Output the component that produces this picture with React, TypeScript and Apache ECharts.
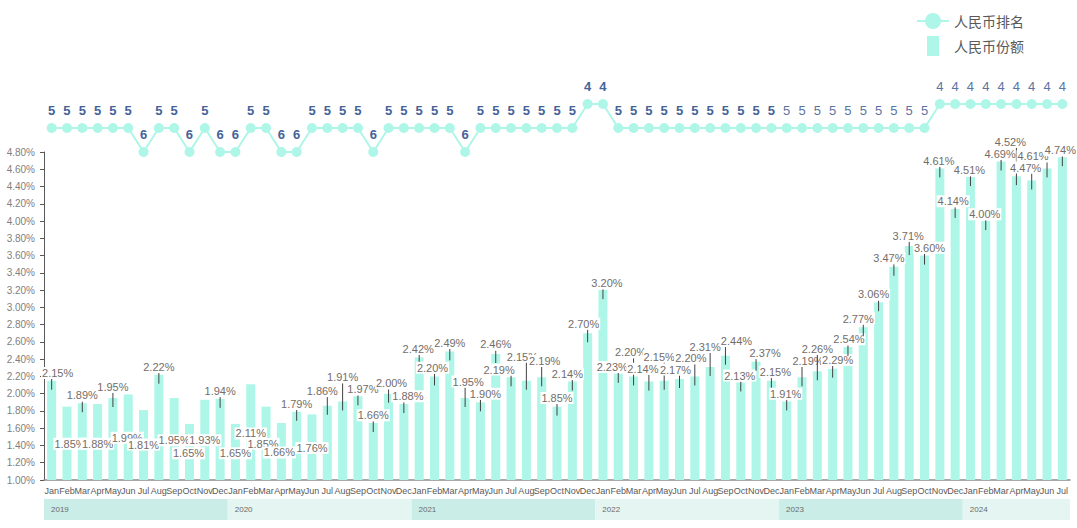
import React, { useEffect, useRef } from "react";
import * as echarts from "echarts";

const monthNames = ["Jan", "Feb", "Mar", "Apr", "May", "Jun", "Jul", "Aug", "Sep", "Oct", "Nov", "Dec"];
const categories: string[] = [];
for (let y = 0; y < 5; y++) for (const m of monthNames) categories.push(m);
for (let i = 0; i < 7; i++) categories.push(monthNames[i]);

// 人民币份额 (%)
const shareValues = [
  2.15, 1.85, 1.89, 1.88, 1.95, 1.99, 1.81, 2.22, 1.95, 1.65, 1.93, 1.94,
  1.65, 2.11, 1.85, 1.66, 1.79, 1.76, 1.86, 1.91, 1.97, 1.66, 2.0, 1.88,
  2.42, 2.2, 2.49, 1.95, 1.9, 2.46, 2.19, 2.15, 2.19, 1.85, 2.14, 2.7,
  3.2, 2.23, 2.2, 2.14, 2.15, 2.17, 2.2, 2.31, 2.44, 2.13, 2.37, 2.15,
  1.91, 2.19, 2.26, 2.29, 2.54, 2.77, 3.06, 3.47, 3.71, 3.6, 4.61, 4.14,
  4.51, 4.0, 4.69, 4.52, 4.47, 4.61, 4.74,
];

// 人民币排名
const rankValues = [
  5, 5, 5, 5, 5, 5, 6, 5, 5, 6, 5, 6,
  6, 5, 5, 6, 6, 5, 5, 5, 5, 6, 5, 5,
  5, 5, 5, 6, 5, 5, 5, 5, 5, 5, 5, 4,
  4, 5, 5, 5, 5, 5, 5, 5, 5, 5, 5, 5,
  5, 5, 5, 5, 5, 5, 5, 5, 5, 5, 4, 4,
  4, 4, 4, 4, 4, 4, 4,
];

// where each data label sits (in axis units) and its horizontal nudge (px)
const labelAnchors = [
  2.24, 1.42, 1.98, 1.42, 2.08, 1.49, 1.41, 2.31, 1.46, 1.31, 1.46, 2.03,
  1.31, 1.54, 1.42, 1.32, 1.88, 1.37, 2.03, 2.19, 2.05, 1.75, 2.12, 1.97,
  2.52, 2.3, 2.59, 2.14, 2.0, 2.57, 2.28, 2.43, 2.38, 1.95, 2.23, 2.81,
  3.28, 2.31, 2.48, 2.29, 2.43, 2.28, 2.41, 2.54, 2.61, 2.21, 2.47, 2.25,
  2.0, 2.38, 2.52, 2.39, 2.63, 2.87, 3.15, 3.57, 3.83, 3.69, 4.7, 4.23,
  4.59, 4.08, 4.78, 4.92, 4.62, 4.75, 4.82,
];
const labelNudges = [
  6, 3, 0, 0, 0, -1, 0, 0, 0, -1, 0, 0,
  0, 0, -3, -2, 0, 0, -5, 0, 5, 0, 3, 4,
  -1, -2, 0, 3, 5, 0, -12, -4, 3, 0, -5, -4,
  4, -6, -3, -6, -5, -4, -4, -5, 11, -1, 9, 4,
  -1, 6, 0, 5, 1, -5, -5, -5, -1, 5, -1, -2,
  -1, -1, -1, -6, -6, -14, -2,
];

const yearLabels = ["2019", "2020", "2021", "2022", "2023", "2024"];
const yearStart = [0, 12, 24, 36, 48, 60];
const yearEnd = [11, 23, 35, 47, 59, 66];

const yTicks = { min: 1, max: 4.8, interval: 0.2 };

const BAR_COLOR = "#aef6e7";
const LABEL_COLOR = "#736d69";
const FONT = "Liberation Sans, Arial, sans-serif";

export default function App() {
  const ref = useRef<HTMLDivElement>(null);
  useEffect(() => {
    if (!ref.current) return;
    const chart = echarts.init(ref.current, null, { renderer: "svg" });

    const labelData = shareValues.map((v, i) => [i, v, labelAnchors[i], labelNudges[i]]);
    const yearData = yearLabels.map((y, i) => [yearStart[i], yearEnd[i], i]);

    const option: any = {
      animation: false,
      backgroundColor: "#ffffff",
      textStyle: { fontFamily: FONT },
      legend: {
        orient: "vertical",
        right: 48,
        top: 8,
        itemWidth: 32,
        itemHeight: 20,
        itemGap: 7,
        textStyle: { fontSize: 14, color: "#595959", fontFamily: "Noto Sans CJK SC" },
        data: [
          { name: "人民币排名" },
          { name: "人民币份额", icon: "path://M0,0H12V20H0Z" },
        ],
      },
      grid: [
        { left: 44, right: 7, top: 152, bottom: 48 },
        { left: 44, right: 7, top: 104, height: 48 },
        { left: 44, right: 7, top: 499, height: 21 },
      ],
      xAxis: [
        {
          type: "category",
          gridIndex: 0,
          data: categories,
          axisLine: { lineStyle: { color: "#8c8c8c", width: 1.5 } },
          axisTick: { show: false },
          axisLabel: { interval: 0, fontSize: 9, color: "#595959", margin: 6, fontFamily: FONT },
        },
        { type: "category", gridIndex: 1, data: categories, show: false },
        { type: "category", gridIndex: 2, data: categories, show: false },
      ],
      yAxis: [
        {
          type: "value",
          gridIndex: 0,
          min: yTicks.min,
          max: yTicks.max,
          interval: yTicks.interval,
          splitLine: { show: false },
          axisLine: { show: true, lineStyle: { color: "#595959", width: 1 } },
          axisTick: { show: true, length: 4, lineStyle: { color: "#595959" } },
          axisLabel: {
            fontSize: 10,
            color: "#7f7f7f",
            margin: 9,
            fontFamily: FONT,
            formatter: (v: number) => v.toFixed(2) + "%",
          },
        },
        { type: "value", gridIndex: 1, min: 4, max: 6, inverse: true, show: false },
        { type: "value", gridIndex: 2, min: 0, max: 1, show: false },
      ],
      series: [
        {
          name: "人民币份额",
          type: "bar",
          xAxisIndex: 0,
          yAxisIndex: 0,
          data: shareValues,
          barWidth: 9,
          itemStyle: { color: BAR_COLOR },
          z: 2,
        },
        {
          name: "labels",
          type: "custom",
          xAxisIndex: 0,
          yAxisIndex: 0,
          data: labelData,
          z: 5,
          silent: true,
          renderItem: (params: any, api: any) => {
            const idx = api.value(0);
            const v = api.value(1);
            const lv = api.value(2);
            const dx = api.value(3);
            const top = api.coord([idx, v]);
            const lp = api.coord([idx, lv]);
            const children: any[] = [];
            if (lp[1] + 6 < top[1]) {
              children.push({
                type: "line",
                shape: { x1: top[0], y1: lp[1] + 6, x2: top[0], y2: top[1] + 9 },
                style: { stroke: "#404040", lineWidth: 1 },
              });
            }
            children.push({
              type: "text",
              x: lp[0] + dx,
              y: lp[1],
              style: {
                text: v.toFixed(2) + "%",
                fill: LABEL_COLOR,
                font: "11px " + FONT,
                align: "center",
                verticalAlign: "middle",
                backgroundColor: "#ffffff",
                padding: [1, 1, 0, 1],
              },
            });
            return { type: "group", children };
          },
        },
        {
          name: "人民币排名",
          type: "line",
          xAxisIndex: 1,
          yAxisIndex: 1,
          data: rankValues.map((r, i) => ({
            value: r,
            label: i < 48
              ? { fontWeight: "bold", color: "#44639a" }
              : { fontWeight: "normal", color: "#5b74a2" },
          })),
          symbol: "circle",
          symbolSize: 10,
          showAllSymbol: true,
          lineStyle: { color: BAR_COLOR, width: 2 },
          itemStyle: { color: BAR_COLOR },
          label: {
            show: true,
            position: "top",
            distance: 6,
            fontSize: 13,
            fontFamily: FONT,
          },
          z: 4,
        },
        {
          name: "years",
          type: "custom",
          xAxisIndex: 2,
          yAxisIndex: 2,
          data: yearData,
          silent: true,
          renderItem: (params: any, api: any) => {
            const s = api.coord([api.value(0), 0]);
            const e = api.coord([api.value(1), 0]);
            const w = api.size([1, 0])[0];
            const k = api.value(2);
            const cs = params.coordSys;
            const x0 = s[0] - w / 2;
            const x1 = e[0] + w / 2;
            return {
              type: "group",
              children: [
                {
                  type: "rect",
                  shape: { x: x0, y: cs.y, width: x1 - x0, height: cs.height },
                  style: { fill: k % 2 === 0 ? "#cbede7" : "#e5f5f2" },
                },
                {
                  type: "text",
                  x: x0 + 7,
                  y: cs.y + cs.height / 2,
                  style: {
                    text: yearLabels[k],
                    fill: "#6b6b6b",
                    font: "8px " + FONT,
                    verticalAlign: "middle",
                  },
                },
              ],
            };
          },
        },
      ],
    };
    chart.setOption(option);
    return () => chart.dispose();
  }, []);
  return (
    <div
      ref={ref}
      style={{ position: "fixed", left: 0, top: 0, width: 1077, height: 528, background: "#fff" }}
    />
  );
}
